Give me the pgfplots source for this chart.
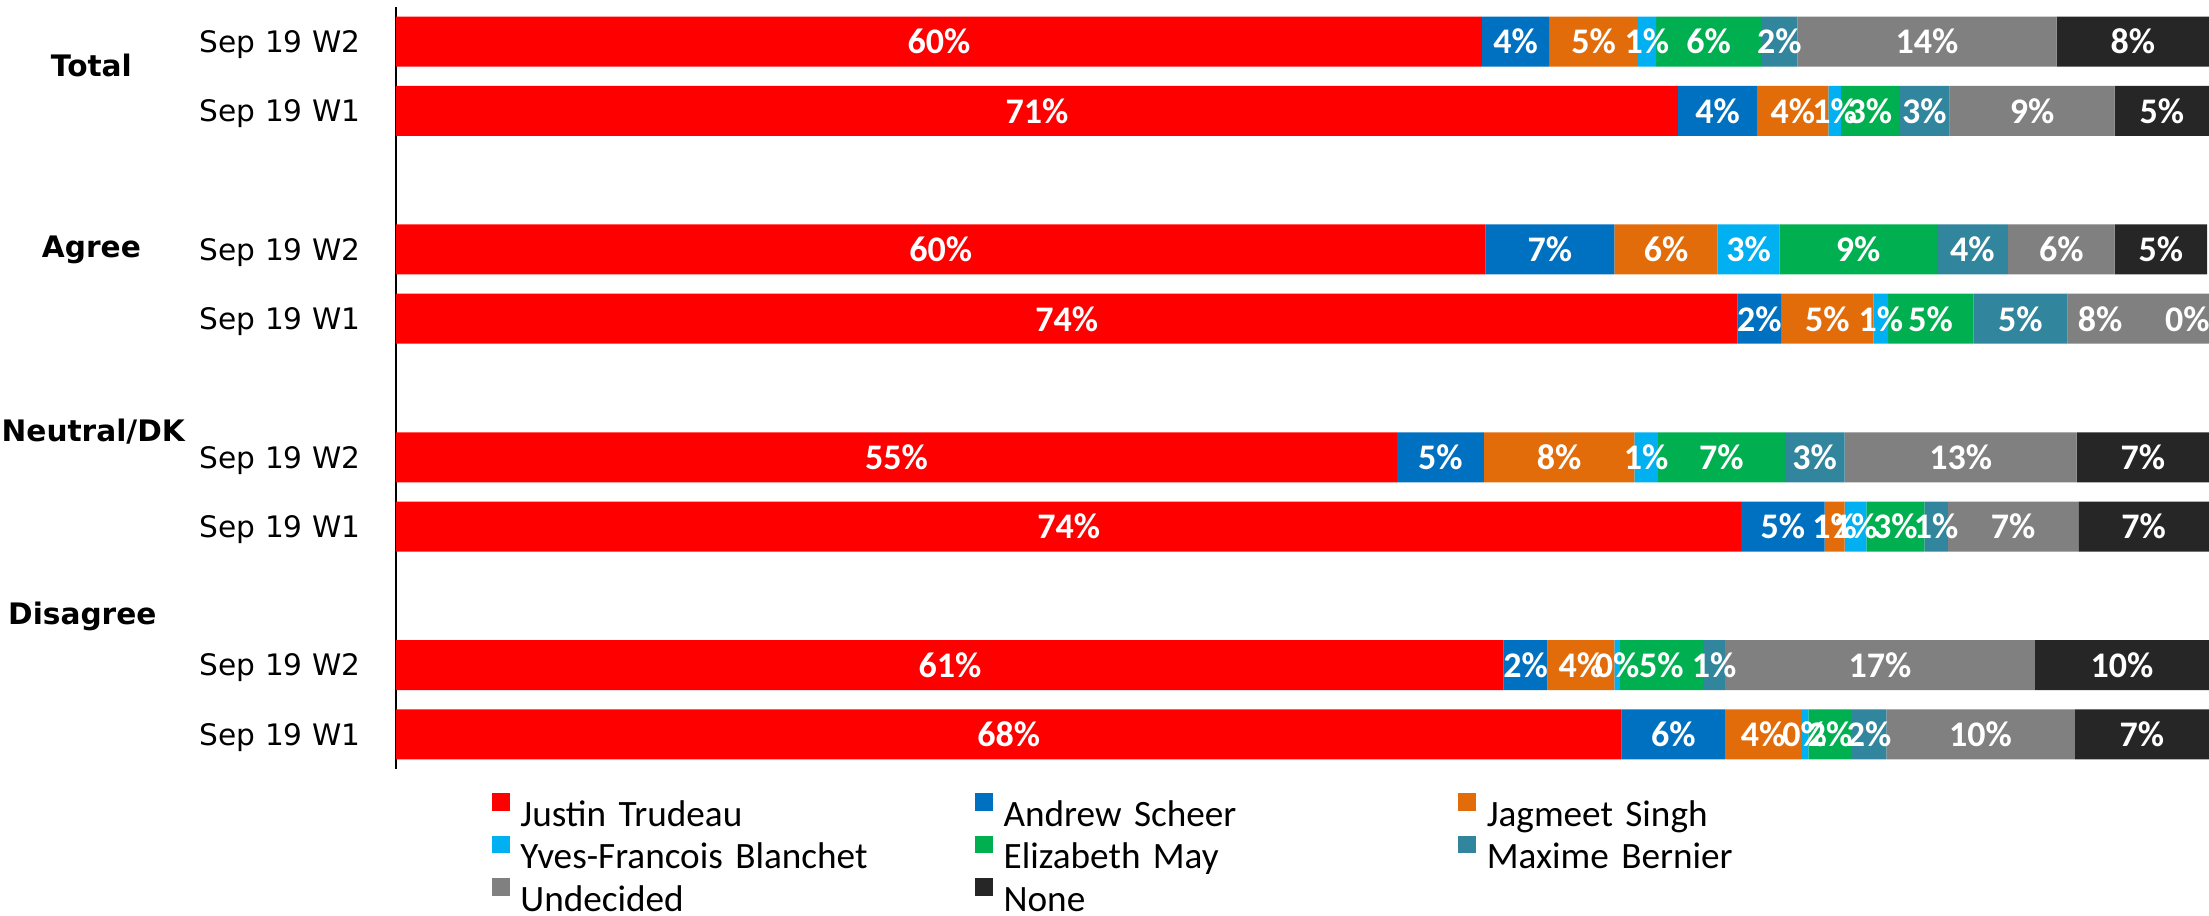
\documentclass[border=0pt]{standalone}
\usepackage{fontspec}
\usepackage{pgfplots}
\usepackage{pgfplotstable}
\pgfplotsset{compat=1.18}
\newfontfamily\dejavu{DejaVu Sans}
\newfontfamily\carlito{Carlito}
\definecolor{cTru}{HTML}{FF0000}
\definecolor{cSch}{HTML}{0070C0}
\definecolor{cSin}{HTML}{E36C0A}
\definecolor{cBla}{HTML}{00B0F0}
\definecolor{cMay}{HTML}{00B050}
\definecolor{cBer}{HTML}{31859C}
\definecolor{cUnd}{HTML}{808080}
\definecolor{cNon}{HTML}{262626}
\pgfplotstableread{
y tru sch sin bla may ber und non
10 59.9 3.7 4.9 1.0 5.8 2.0 14.3 8.4
9 70.7 4.4 3.9 0.7 3.2 2.8 9.1 5.2
7 60.1 7.1 5.7 3.4 8.7 3.9 5.9 5.1
6 74.0 2.4 5.1 0.8 4.7 5.2 7.8 0
4 55.2 4.8 8.3 1.3 7.0 3.3 12.8 7.3
3 74.2 4.6 1.1 1.2 3.2 1.3 7.2 7.2
1 61.1 2.4 3.7 0.3 4.6 1.2 17.1 9.6
0 67.6 5.7 4.2 0.4 2.4 1.9 10.4 7.4
}\datatable
% label positions: centre of each segment (kept inside the plot at the right end)
\pgfplotstablecreatecol[create col/expr={\thisrow{tru}/2}]{mtru}\datatable
\pgfplotstablecreatecol[create col/expr={\thisrow{tru}+\thisrow{sch}/2}]{msch}\datatable
\pgfplotstablecreatecol[create col/expr={\thisrow{tru}+\thisrow{sch}+\thisrow{sin}/2}]{msin}\datatable
\pgfplotstablecreatecol[create col/expr={\thisrow{tru}+\thisrow{sch}+\thisrow{sin}+\thisrow{bla}/2}]{mbla}\datatable
\pgfplotstablecreatecol[create col/expr={\thisrow{tru}+\thisrow{sch}+\thisrow{sin}+\thisrow{bla}+\thisrow{may}/2}]{mmay}\datatable
\pgfplotstablecreatecol[create col/expr={\thisrow{tru}+\thisrow{sch}+\thisrow{sin}+\thisrow{bla}+\thisrow{may}+\thisrow{ber}/2}]{mber}\datatable
\pgfplotstablecreatecol[create col/expr={min(\thisrow{tru}+\thisrow{sch}+\thisrow{sin}+\thisrow{bla}+\thisrow{may}+\thisrow{ber}+\thisrow{und}/2,94)}]{mund}\datatable
\pgfplotstablecreatecol[create col/expr={min(\thisrow{tru}+\thisrow{sch}+\thisrow{sin}+\thisrow{bla}+\thisrow{may}+\thisrow{ber}+\thisrow{und}+\thisrow{non}/2,98.8)}]{mnon}\datatable
\begin{document}
\begin{tikzpicture}
\path[use as bounding box] (0,0) rectangle (552.25pt,228.75pt);
\begin{axis}[
  at={(99pt,36.5pt)}, anchor=south west,
  scale only axis, width=453.25pt, height=190.5pt,
  xbar stacked, bar width=12.5pt,
  xmin=0, xmax=100, ymin=-0.5, ymax=10.5,
  axis x line=none, axis y line*=left,
  axis line style={black, line width=0.5pt, -},
  ytick={0,1,3,4,6,7,9,10},
  yticklabels={Sep 19 W1, Sep 19 W2, Sep 19 W1, Sep 19 W2, Sep 19 W1, Sep 19 W2, Sep 19 W1, Sep 19 W2},
  major tick length=0pt,
  yticklabel style={font=\dejavu\fontsize{7.4}{8}\selectfont, inner sep=0pt, text height=5.4pt, text depth=0pt, xshift=-8.75pt},
  clip=false,
  legend columns=3,
  legend style={at={(0,0)}, anchor=north west, xshift=24pt, yshift=-6pt, draw=none, fill=none, inner sep=0pt, outer sep=0pt, column sep=0pt, row sep=0pt, font=\carlito\fontsize{9.3}{10}\selectfont, nodes={text width=111pt, align=left, text height=8.3pt, text depth=2.3pt, inner xsep=2.7pt, inner ysep=0pt}, legend cell align=left},
  legend image code/.code={\fill[#1] (0pt,0.8pt) rectangle (4.4pt,5.2pt);},
]
\addplot[fill=cTru, draw=none] table[x=tru, y=y]{\datatable};
\addlegendentry{Justin Trudeau}
\addplot[fill=cSch, draw=none] table[x=sch, y=y]{\datatable};
\addlegendentry{Andrew Scheer}
\addplot[fill=cSin, draw=none] table[x=sin, y=y]{\datatable};
\addlegendentry{Jagmeet Singh}
\addplot[fill=cBla, draw=none] table[x=bla, y=y]{\datatable};
\addlegendentry{Yves-Francois Blanchet}
\addplot[fill=cMay, draw=none] table[x=may, y=y]{\datatable};
\addlegendentry{Elizabeth May}
\addplot[fill=cBer, draw=none] table[x=ber, y=y]{\datatable};
\addlegendentry{Maxime Bernier}
\addplot[fill=cUnd, draw=none] table[x=und, y=y]{\datatable};
\addlegendentry{Undecided}
\addplot[fill=cNon, draw=none] table[x=non, y=y]{\datatable};
\addlegendentry{None}
\node[font=\dejavu\bfseries\fontsize{7.4}{8}\selectfont, text height=5.4pt, text depth=0pt, inner sep=0pt] at (axis cs:-16.8,9.65) {Total};
\node[font=\dejavu\bfseries\fontsize{7.4}{8}\selectfont, text height=5.4pt, text depth=0pt, inner sep=0pt] at (axis cs:-16.8,7.04) {Agree};
\node[font=\dejavu\bfseries\fontsize{7.4}{8}\selectfont, text height=5.4pt, text depth=0pt, inner sep=0pt] at (axis cs:-16.7,4.38) {Neutral/DK};
\node[font=\dejavu\bfseries\fontsize{7.4}{8}\selectfont, text height=5.4pt, text depth=0pt, inner sep=0pt] at (axis cs:-17.3,1.74) {Disagree};
\end{axis}
\begin{axis}[
  at={(99pt,36.5pt)}, anchor=south west,
  scale only axis, width=453.25pt, height=190.5pt,
  xmin=0, xmax=100, ymin=-0.5, ymax=10.5,
  hide axis, clip=false,
  point meta=explicit,
  /pgf/number format/assume math mode=true,
  nodes near coords={\pgfmathprintnumber[fixed,precision=0,assume math mode=true]{\pgfplotspointmeta}\%},
  every node near coord/.append style={font=\carlito\bfseries\fontsize{9}{10}\selectfont, text=white, anchor=center, inner sep=0pt},
]
\addplot[only marks, mark=none] table[x=mtru, y=y, meta=tru]{\datatable};
\addplot[only marks, mark=none] table[x=msch, y=y, meta=sch]{\datatable};
\addplot[only marks, mark=none] table[x=msin, y=y, meta=sin]{\datatable};
\addplot[only marks, mark=none] table[x=mbla, y=y, meta=bla]{\datatable};
\addplot[only marks, mark=none] table[x=mmay, y=y, meta=may]{\datatable};
\addplot[only marks, mark=none] table[x=mber, y=y, meta=ber]{\datatable};
\addplot[only marks, mark=none] table[x=mund, y=y, meta=und]{\datatable};
\addplot[only marks, mark=none] table[x=mnon, y=y, meta=non]{\datatable};
\end{axis}
\end{tikzpicture}
\end{document}
